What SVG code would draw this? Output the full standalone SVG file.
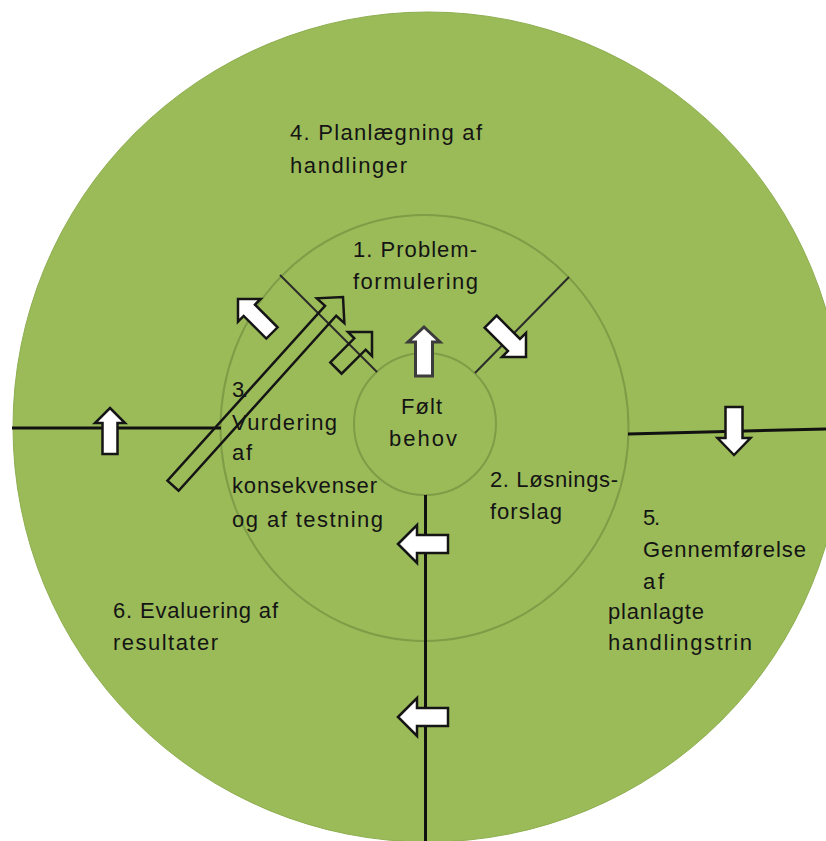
<svg xmlns="http://www.w3.org/2000/svg" width="826" height="841" viewBox="0 0 826 841">
<defs>
<style>
.t{font-family:"Liberation Sans",Arial,sans-serif;font-size:22px;fill:#141414}
.ring{fill:none;stroke:#7f9c47;stroke-width:2}
.ln{stroke:#111;stroke-width:3;fill:none}
.dl{stroke:#2a2a2a;stroke-width:2;fill:none}
.aw{fill:#fff;stroke:#151515;stroke-width:2.5;stroke-linejoin:miter}
.ag{fill:#fff;stroke:#3c3c3c;stroke-width:3}
.ah{fill:none;stroke:#151515;stroke-width:2.5}
</style>
</defs>
<rect width="826" height="841" fill="#ffffff"/>
<g id="outer-circle"><circle cx="428" cy="427" r="415" fill="#9bbb59" stroke="#8eae50" stroke-width="1"/></g>
<g id="middle-circle"><ellipse cx="424.5" cy="428" rx="204" ry="213" class="ring"/></g>
<g id="inner-circle"><circle cx="425" cy="424" r="71" class="ring"/></g>
<g id="connectors">
<line x1="12" y1="428" x2="221" y2="428" class="ln"/>
<line x1="628" y1="434" x2="826" y2="429" class="ln"/>
<line x1="425.5" y1="495" x2="425.5" y2="841" class="ln"/>
<line x1="280" y1="275" x2="377" y2="372" class="dl"/>
<line x1="569" y1="277" x2="475" y2="373" class="dl"/>
</g>
<g id="arrows">
<path class="ag" d="M0,0 L16,15 L8.5,15 L8.5,49 L-8.5,49 L-8.5,15 L-16,15 Z" transform="translate(424,327)"/>
<path class="aw" d="M0,0 L17,17 L8.5,17 L8.5,50 L-8.5,50 L-8.5,17 L-17,17 Z" transform="translate(526,357) rotate(135)"/>
<path class="aw" d="M0,0 L16,16 L8,16 L8,48 L-8,48 L-8,16 L-16,16 Z" transform="translate(238,299) rotate(-45)"/>
<path class="ah" d="M0,0 L17,17 L8,17 L8,51 L-8,51 L-8,17 L-17,17 Z" transform="translate(372,332) rotate(45)"/>
<path class="ah" d="M0,0 L18.5,18.5 L7.5,18.5 L7.5,254 L-7.5,254 L-7.5,18.5 L-18.5,18.5 Z" transform="translate(343,297) rotate(42)"/>
<path class="aw" d="M0,0 L15,15 L7.5,15 L7.5,46 L-7.5,46 L-7.5,15 L-15,15 Z" transform="translate(110,408)"/>
<path class="aw" d="M0,0 L16.5,17 L8.5,17 L8.5,48 L-8.5,48 L-8.5,17 L-16.5,17 Z" transform="translate(734,455) rotate(180)"/>
<path class="aw" d="M0,0 L19,19 L9,19 L9,50 L-9,50 L-9,19 L-19,19 Z" transform="translate(398,544) rotate(-90)"/>
<path class="aw" d="M0,0 L19,19 L9,19 L9,50 L-9,50 L-9,19 L-19,19 Z" transform="translate(398,717) rotate(-90)"/>
</g>
<g id="node-4">
<text class="t" x="290" y="140" textLength="192" lengthAdjust="spacing">4. Planlægning af</text>
<text class="t" x="290" y="173" textLength="117" lengthAdjust="spacing">handlinger</text>
</g>
<g id="node-1">
<text class="t" x="353" y="257" textLength="124" lengthAdjust="spacing">1. Problem-</text>
<text class="t" x="353" y="289" textLength="125" lengthAdjust="spacing">formulering</text>
</g>
<g id="node-center">
<text class="t" x="401" y="414" textLength="41" lengthAdjust="spacing">Følt</text>
<text class="t" x="389" y="446" textLength="68" lengthAdjust="spacing">behov</text>
</g>
<g id="node-2">
<text class="t" x="490" y="487" textLength="128" lengthAdjust="spacing">2. Løsnings-</text>
<text class="t" x="490" y="519" textLength="72" lengthAdjust="spacing">forslag</text>
</g>
<g id="node-3">
<text class="t" x="232" y="397" textLength="16" lengthAdjust="spacing">3.</text>
<text class="t" x="232" y="430" textLength="105" lengthAdjust="spacing">Vurdering</text>
<text class="t" x="232" y="460" textLength="20" lengthAdjust="spacing">af</text>
<text class="t" x="232" y="493" textLength="145" lengthAdjust="spacing">konsekvenser</text>
<text class="t" x="232" y="527" textLength="151" lengthAdjust="spacing">og af testning</text>
</g>
<g id="node-5">
<text class="t" x="643" y="525" textLength="17" lengthAdjust="spacing">5.</text>
<text class="t" x="643" y="557" textLength="163" lengthAdjust="spacing">Gennemførelse</text>
<text class="t" x="643" y="589" textLength="21" lengthAdjust="spacing">af</text>
<text class="t" x="608" y="619" textLength="96" lengthAdjust="spacing">planlagte</text>
<text class="t" x="608" y="650" textLength="144" lengthAdjust="spacing">handlingstrin</text>
</g>
<g id="node-6">
<text class="t" x="113" y="618" textLength="165" lengthAdjust="spacing">6. Evaluering af</text>
<text class="t" x="113" y="650" textLength="105" lengthAdjust="spacing">resultater</text>
</g>
</svg>
